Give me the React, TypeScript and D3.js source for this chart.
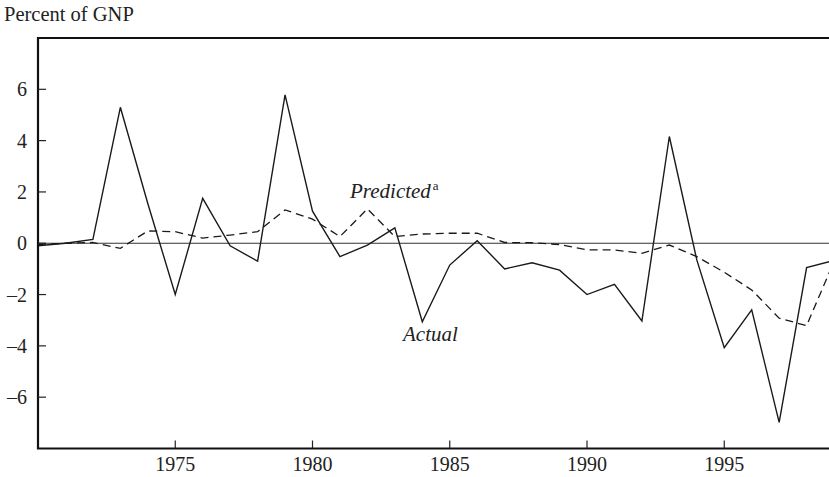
import { useEffect, useRef } from "react"
import * as d3 from "d3"

// yearly values, percent of GNP
const years = [
  1970, 1971, 1972, 1973, 1974, 1975, 1976, 1977, 1978, 1979,
  1980, 1981, 1982, 1983, 1984, 1985, 1986, 1987, 1988, 1989,
  1990, 1991, 1992, 1993, 1994, 1995, 1996, 1997, 1998, 1999,
]
const actual = [
  -0.1, 0.0, 0.15, 5.3, 1.55, -2.0, 1.75, -0.1, -0.7, 5.78,
  1.25, -0.52, -0.07, 0.6, -3.06, -0.85, 0.1, -1.0, -0.76, -1.05,
  -2.0, -1.6, -3.03, 4.16, -0.65, -4.07, -2.6, -6.98, -0.95, -0.67,
]
const predicted = [
  -0.05, 0.0, 0.03, -0.2, 0.48, 0.45, 0.2, 0.32, 0.45, 1.3,
  0.94, 0.26, 1.34, 0.26, 0.36, 0.39, 0.39, 0.03, 0.02, -0.05,
  -0.26, -0.26, -0.39, -0.07, -0.52, -1.13, -1.82, -2.92, -3.21, -0.71,
]
const yTicks = [6, 4, 2, 0, -2, -4, -6]
const xTicks = [1975, 1980, 1985, 1990, 1995]

const W = 829
const H = 477
const FONT = "'Liberation Serif', 'Times New Roman', serif"

const App = () => {
  const ref = useRef<SVGSVGElement>(null)

  useEffect(() => {
    const svg = d3.select(ref.current)
    svg.selectAll("*").remove()

    const left = 38
    const top = 38
    const bottom = 448.5

    const x = d3.scaleLinear().domain([1970, 1999]).range([left, left + 29 * 27.45])
    const y = d3.scaleLinear().domain([-8, 8]).range([bottom, top])

    svg
      .append("defs")
      .append("clipPath")
      .attr("id", "plot")
      .append("rect")
      .attr("x", left)
      .attr("y", top)
      .attr("width", W - left)
      .attr("height", bottom - top)

    // zero line
    svg
      .append("line")
      .attr("x1", left)
      .attr("x2", W)
      .attr("y1", y(0))
      .attr("y2", y(0))
      .attr("stroke", "#333")
      .attr("stroke-width", 1.1)

    const line = d3
      .line<number>()
      .x((_, i) => x(years[i]))
      .y((d) => y(d))

    const g = svg.append("g").attr("clip-path", "url(#plot)")

    g.append("path")
      .attr("d", line(predicted))
      .attr("fill", "none")
      .attr("stroke", "#1a1a1a")
      .attr("stroke-width", 1.3)
      .attr("stroke-dasharray", "8,5")

    g.append("path")
      .attr("d", line(actual))
      .attr("fill", "none")
      .attr("stroke", "#1a1a1a")
      .attr("stroke-width", 1.4)

    // frame: top, left, bottom
    svg
      .append("path")
      .attr("d", `M${W},${top}H${left}V${bottom}H${W}`)
      .attr("fill", "none")
      .attr("stroke", "#111")
      .attr("stroke-width", 2.2)

    // y ticks (inward)
    yTicks.forEach((t) => {
      svg
        .append("line")
        .attr("x1", left)
        .attr("x2", left + 8)
        .attr("y1", y(t))
        .attr("y2", y(t))
        .attr("stroke", "#222")
        .attr("stroke-width", 1.2)
      svg
        .append("text")
        .text(t < 0 ? "\u2013" + Math.abs(t) : String(t))
        .attr("x", 27)
        .attr("y", y(t))
        .attr("dy", "0.35em")
        .attr("text-anchor", "end")
        .attr("font-family", FONT)
        .attr("font-size", 20)
        .attr("fill", "#222")
    })

    // x ticks (inward)
    xTicks.forEach((t) => {
      svg
        .append("line")
        .attr("x1", x(t))
        .attr("x2", x(t))
        .attr("y1", bottom)
        .attr("y2", bottom - 8)
        .attr("stroke", "#222")
        .attr("stroke-width", 1.2)
      svg
        .append("text")
        .text(String(t))
        .attr("x", x(t))
        .attr("y", 471)
        .attr("text-anchor", "middle")
        .attr("font-family", FONT)
        .attr("font-size", 20)
        .attr("fill", "#222")
    })

    svg
      .append("text")
      .text("Percent of GNP")
      .attr("x", 4)
      .attr("y", 21)
      .attr("font-family", FONT)
      .attr("font-size", 20.5)
      .attr("fill", "#222")

    const pred = svg
      .append("text")
      .attr("x", 350)
      .attr("y", 198)
      .attr("font-family", FONT)
      .attr("font-size", 21)
      .attr("font-style", "italic")
      .attr("fill", "#222")
    pred.append("tspan").text("Predicted")
    pred
      .append("tspan")
      .text("a")
      .attr("dx", 2)
      .attr("dy", -8)
      .attr("font-size", 13)
      .attr("font-style", "normal")

    svg
      .append("text")
      .text("Actual")
      .attr("x", 403)
      .attr("y", 341)
      .attr("font-family", FONT)
      .attr("font-size", 21)
      .attr("font-style", "italic")
      .attr("fill", "#222")
  }, [])

  return (
    <div>
      <svg
        ref={ref}
        width={W}
        height={H}
        style={{ position: "absolute", left: 0, top: 0, background: "#fff" }}
      />
    </div>
  )
}

export default App
